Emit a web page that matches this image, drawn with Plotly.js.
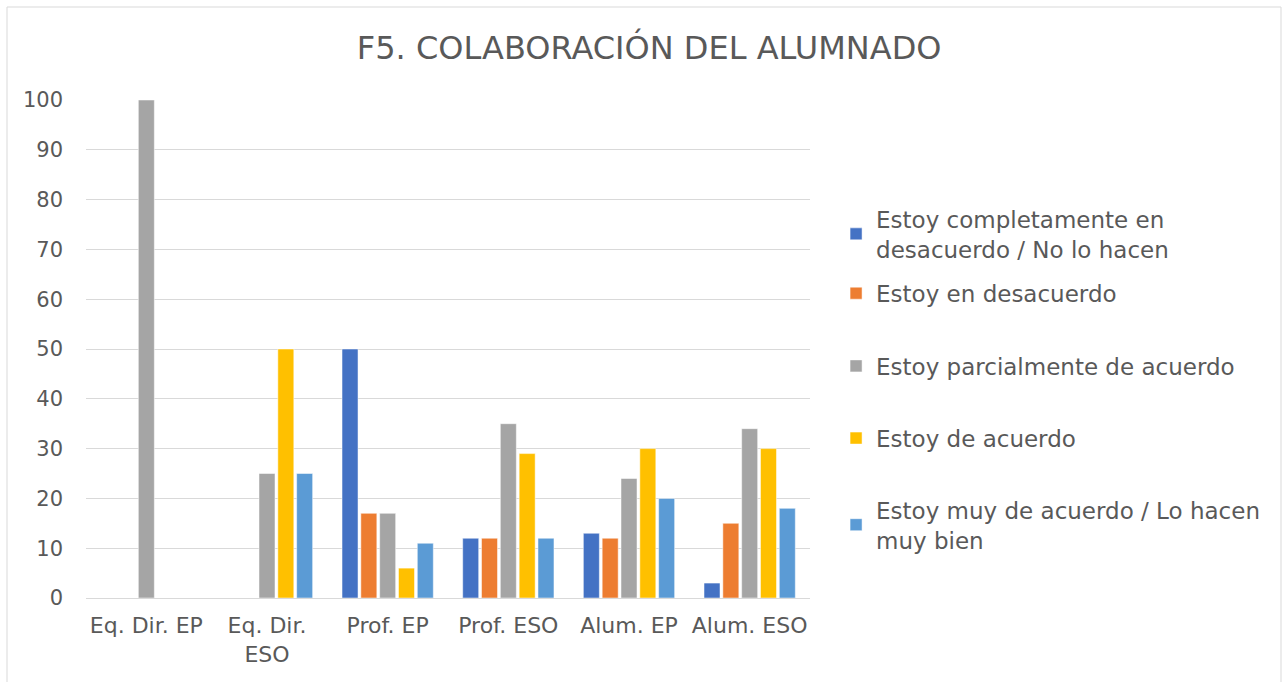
<!DOCTYPE html>
<html>
<head>
<meta charset="utf-8">
<script src="https://cdn.plot.ly/plotly-3.0.1.min.js"></script>
<style>html,body{margin:0;padding:0;background:#fff;}#chart{width:1288px;height:682px;}</style>
</head>
<body>
<div id="chart"></div>
<script>
const categories = ["Eq. Dir. EP", "Eq. Dir. ESO", "Prof. EP", "Prof. ESO", "Alum. EP", "Alum. ESO"];
const tickLabels = ["Eq. Dir. EP", "Eq. Dir.<br>ESO", "Prof. EP", "Prof. ESO", "Alum. EP", "Alum. ESO"];
const seriesNames = [
  "Estoy completamente en<br>desacuerdo / No lo hacen",
  "Estoy en desacuerdo",
  "Estoy parcialmente de acuerdo",
  "Estoy de acuerdo",
  "Estoy muy de acuerdo / Lo hacen<br>muy bien"
];
const completamenteDesacuerdo = [0, 0, 50, 12, 13, 3];
const enDesacuerdo = [0, 0, 17, 12, 12, 15];
const parcialmenteAcuerdo = [100, 25, 17, 35, 24, 34];
const deAcuerdo = [0, 50, 6, 29, 30, 30];
const muyDeAcuerdo = [0, 25, 11, 12, 20, 18];
const yTicks = [0, 10, 20, 30, 40, 50, 60, 70, 80, 90, 100];

const colors = ["#4472C4", "#ED7D31", "#A5A5A5", "#FFC000", "#5B9BD5"];
const values = [completamenteDesacuerdo, enDesacuerdo, parcialmenteAcuerdo, deAcuerdo, muyDeAcuerdo];
const legendIds = ["legend", "legend2", "legend3", "legend4", "legend5"];
const legendY = [0.731, 0.612, 0.466, 0.321, 0.147];

const traces = values.map((v, i) => ({
  type: "bar",
  x: categories,
  y: v,
  name: seriesNames[i],
  legend: legendIds[i],
  showlegend: true,
  marker: { color: colors[i], line: { color: "#ffffff", width: 0.5 } },
  hoverinfo: "x+y+name"
}));

const font = "'DejaVu Sans', sans-serif";
const layout = {
  width: 1288,
  height: 682,
  showlegend: true,
  margin: { l: 86, r: 478, t: 100, b: 84 },
  paper_bgcolor: "#ffffff",
  plot_bgcolor: "#ffffff",
  font: { family: font, color: "#595959", size: 20 },
  title: {
    text: "F5. COLABORACIÓN DEL ALUMNADO",
    font: { family: font, size: 32, color: "#595959" },
    x: 0.504, xref: "container", xanchor: "center",
    y: 1 - 48 / 682, yref: "container", yanchor: "middle"
  },
  barmode: "group",
  bargap: 0.22,
  bargroupgap: 0.15,
  xaxis: {
    type: "category",
    tickmode: "array",
    tickvals: categories,
    ticktext: tickLabels,
    showgrid: false,
    showline: true,
    linecolor: "#d9d9d9",
    linewidth: 1,
    ticks: "",
    ticklabelstandoff: 8,
    tickfont: { family: font, size: 22, color: "#595959" },
    fixedrange: true
  },
  yaxis: {
    range: [0, 100],
    tickmode: "array",
    tickvals: yTicks,
    showgrid: true,
    gridcolor: "#d9d9d9",
    gridwidth: 1,
    zeroline: false,
    showline: false,
    ticks: "",
    ticklabelstandoff: 22,
    tickfont: { family: font, size: 21, color: "#595959" },
    fixedrange: true
  },
  shapes: [{
    type: "rect", xref: "paper", yref: "paper",
    x0: (7 - 86) / 724, x1: (1281 - 86) / 724,
    y0: (598 - 690) / 498, y1: (598 - 7) / 498,
    line: { color: "#d9d9d9", width: 1 }, fillcolor: "rgba(0,0,0,0)", layer: "below"
  }]
};

legendIds.forEach((id, i) => {
  layout[id] = {
    x: 1.036, xanchor: "left",
    y: legendY[i], yanchor: "middle",
    font: { family: font, size: 23, color: "#595959" },
    itemwidth: 30,
    bgcolor: "rgba(0,0,0,0)"
  };
});

Plotly.newPlot("chart", traces, layout, { displayModeBar: false, staticPlot: true });
</script>
</body>
</html>
